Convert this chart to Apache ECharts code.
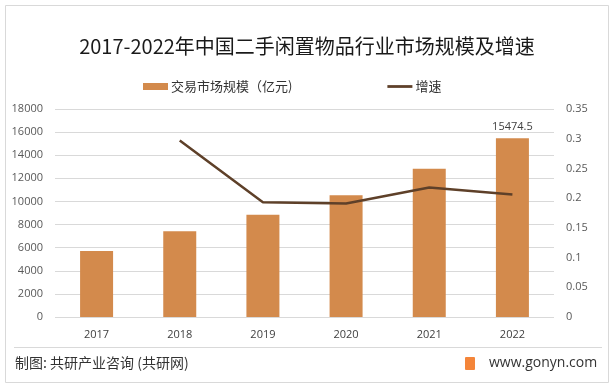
<!DOCTYPE html>
<html><head><meta charset="utf-8">
<script src="https://cdn.jsdelivr.net/npm/echarts@6/dist/echarts.min.js"></script>
<style>html,body{margin:0;padding:0;background:#fff}#c{width:614px;height:388px}</style>
</head><body><div id="c"></div>
<script>
const years = ['2017','2018','2019','2020','2021','2022'];
const marketSize = [5714, 7411, 8842, 10531, 12826, 15474.5];
const growth = [null, 0.297, 0.193, 0.191, 0.218, 0.206];
const leftTicks = [0,2000,4000,6000,8000,10000,12000,14000,16000,18000];
const rightTicks = [0,0.05,0.1,0.15,0.2,0.25,0.3,0.35];

const chart = echarts.init(document.getElementById('c'), null, {renderer:'canvas'});
const cjk = '"Noto Sans CJK SC", "Noto Sans", sans-serif';
chart.setOption({
  animation:false,
  backgroundColor:'#fff',
  title:{text:'2017-2022年中国二手闲置物品行业市场规模及增速', left:'center', top:31,
    textStyle:{fontFamily:cjk, fontSize:20, fontWeight:'normal', color:'#1a1a1a'}},
  legend:{top:75, left:138, itemGap:95, itemWidth:25, itemHeight:7,
    textStyle:{fontFamily:cjk, fontSize:13, color:'#333', padding:[0,0,0,-2]},
    data:[{name:'交易市场规模（亿元)', icon:'rect'},{name:'增速', icon:'path://M0,0 L27,0 L27,3 L0,3 Z'}]},
  grid:{left:55, right:60, top:109, bottom:71},
  xAxis:{type:'category', data:years,
    axisLine:{show:false}, axisTick:{show:false},
    axisLabel:{margin:12, fontFamily:'"Open Sans", sans-serif', fontSize:11, color:'#404040'}},
  yAxis:[
    {type:'value', min:0, max:18000, interval:2000,
     axisLabel:{margin:12, fontFamily:'"Open Sans", sans-serif', fontSize:11, color:'#595959', formatter:v=>String(v)},
     splitLine:{lineStyle:{color:'#d9d9d9'}}},
    {type:'value', min:0, max:0.35, interval:0.05,
     axisLabel:{margin:12, fontFamily:'"Open Sans", sans-serif', fontSize:11, color:'#595959',
       formatter:v=>String(+v.toFixed(2))},
     splitLine:{show:false}}
  ],
  series:[
    {name:'交易市场规模（亿元)', type:'bar', data:marketSize, barWidth:33,
     itemStyle:{color:'#D38A4C'},
     label:{show:true, position:'top', distance:6, fontFamily:'"Open Sans", sans-serif', fontSize:11, color:'#404040',
       formatter:p=>p.dataIndex===marketSize.length-1?String(p.value):''}},
    {name:'增速', type:'line', yAxisIndex:1, data:growth, showSymbol:false, symbol:'none',
     lineStyle:{color:'#5E4029', width:2.5}, itemStyle:{color:'#5E4029'}}
  ],
  graphic:[
    {type:'rect', shape:{x:5.5,y:5.5,width:603,height:377}, style:{fill:null, stroke:'#d9d9d9', lineWidth:1}, silent:true, z:-1},
    {type:'line', shape:{x1:14,y1:347.5,x2:602,y2:347.5}, style:{stroke:'#d9d9d9', lineWidth:1}},
    {type:'text', left:15, top:356, style:{text:'制图: 共研产业咨询 (共研网)', fontFamily:cjk, fontSize:14, fill:'#333'}},
    {type:'rect', shape:{x:465,y:357,width:10,height:13, r:1}, style:{fill:'#F4853A'}},
    {type:'text', left:489, top:356, style:{text:'www.gonyn.com', fontFamily:'"Open Sans", sans-serif', fontSize:14, fill:'#333'}}
  ]
});
</script></body></html>
